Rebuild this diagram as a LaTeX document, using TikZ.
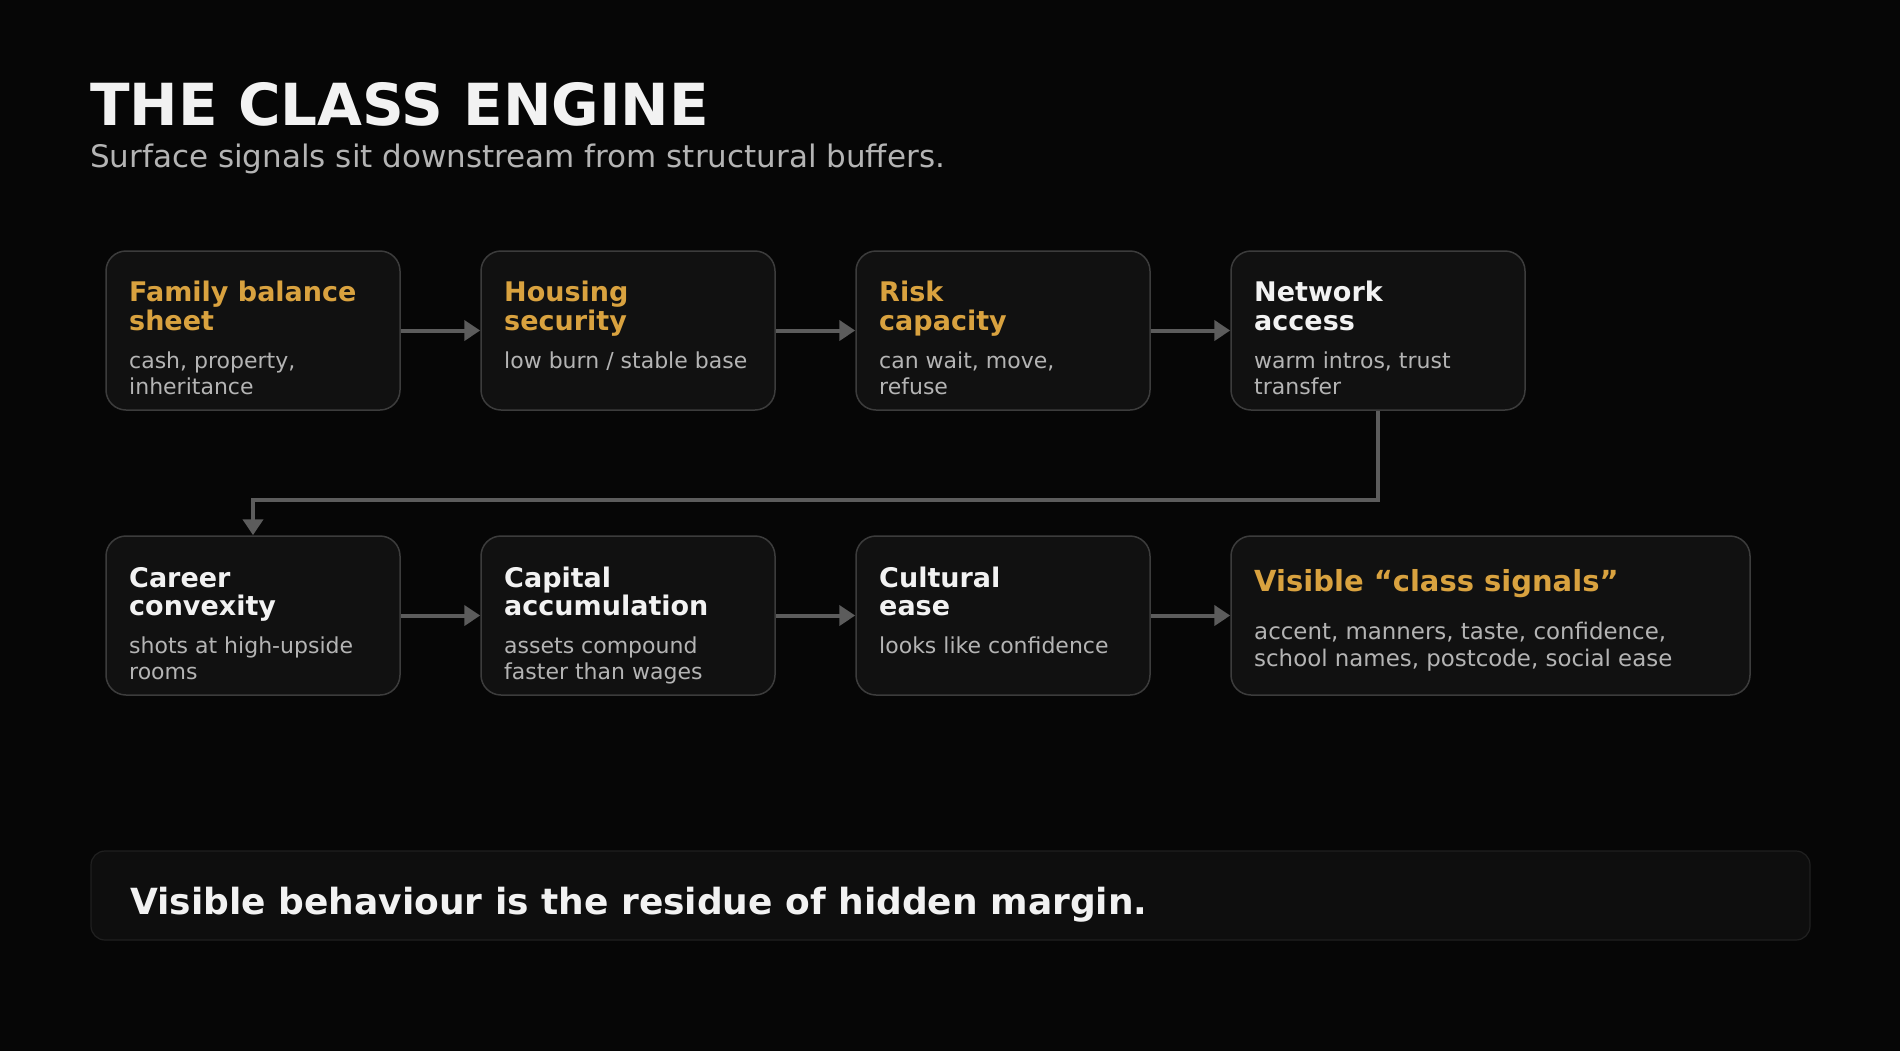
\documentclass[tikz,border=0pt]{standalone}
\usepackage{fontspec}
\setmainfont{DejaVu Sans}
\usetikzlibrary{arrows.meta}
\definecolor{bg}{HTML}{060606}
\definecolor{cardfill}{HTML}{111111}
\definecolor{cardline}{HTML}{3C3C3C}
\definecolor{bannerfill}{HTML}{0E0E0E}
\definecolor{bannerline}{HTML}{202020}
\definecolor{arrowc}{HTML}{5C5C5C}
\definecolor{orangec}{HTML}{D9A23F}
\definecolor{whitec}{HTML}{F2F2F2}
\definecolor{subc}{HTML}{B4B4B4}
\begin{document}
\begin{tikzpicture}[x=1pt,y=-1pt,
  card/.style={draw=cardline, fill=cardfill, rounded corners=20pt, line width=1.5pt,
    minimum width=294pt, minimum height=159pt, inner sep=0pt},
  ttl/.style={anchor=base west, inner sep=0pt, font=\fontsize{27}{29}\selectfont\bfseries},
  subtxt/.style={anchor=base west, inner sep=0pt, text=subc, font=\fontsize{22}{26}\selectfont},
  conn/.style={draw=arrowc, line width=4pt, -{Triangle[length=16pt,width=20pt]}}]
\useasboundingbox (0,0) rectangle (1900,1050);
\path[fill=bg] (-5,-5) rectangle (1905,1055);

% heading
\node[anchor=base west, inner sep=0pt, text=whitec, font=\fontsize{58}{60}\selectfont\bfseries] (title) at (90,125.5) {THE CLASS ENGINE};
\node[anchor=base west, inner sep=0pt, text=subc, font=\fontsize{31}{34}\selectfont] (subtitle) at (90,167.5) {Surface signals sit downstream from structural buffers.};

% row 1
\node[card] (b1) at (253,330.5) {};
\node[card] (b2) at (628,330.5) {};
\node[card] (b3) at (1003,330.5) {};
\node[card] (b4) at (1378,330.5) {};

\node[ttl, text=orangec] (b1t1) at (129,301.5) {Family balance};
\node[ttl, text=orangec] (b1t2) at (129,330.5) {sheet};
\node[subtxt] (b1s1) at (129,368.5) {cash, property,};
\node[subtxt] (b1s2) at (129,394.5) {inheritance};

\node[ttl, text=orangec] (b2t1) at (504,301.5) {Housing};
\node[ttl, text=orangec] (b2t2) at (504,330.5) {security};
\node[subtxt] (b2s1) at (504,368.5) {low burn / stable base};

\node[ttl, text=orangec] (b3t1) at (879,301.5) {Risk};
\node[ttl, text=orangec] (b3t2) at (879,330.5) {capacity};
\node[subtxt] (b3s1) at (879,368.5) {can wait, move,};
\node[subtxt] (b3s2) at (879,394.5) {refuse};

\node[ttl, text=whitec] (b4t1) at (1254,301.5) {Network};
\node[ttl, text=whitec] (b4t2) at (1254,330.5) {access};
\node[subtxt] (b4s1) at (1254,368.5) {warm intros, trust};
\node[subtxt] (b4s2) at (1254,394.5) {transfer};

% row 2
\node[card] (b5) at (253,615.5) {};
\node[card] (b6) at (628,615.5) {};
\node[card] (b7) at (1003,615.5) {};
\node[card, minimum width=519pt] (b8) at (1490.5,615.5) {};

\node[ttl, text=whitec] (b5t1) at (129,587) {Career};
\node[ttl, text=whitec] (b5t2) at (129,615.5) {convexity};
\node[subtxt] (b5s1) at (129,653.5) {shots at high-upside};
\node[subtxt] (b5s2) at (129,679.5) {rooms};

\node[ttl, text=whitec] (b6t1) at (504,587) {Capital};
\node[ttl, text=whitec] (b6t2) at (504,615.5) {accumulation};
\node[subtxt] (b6s1) at (504,653.5) {assets compound};
\node[subtxt] (b6s2) at (504,679.5) {faster than wages};

\node[ttl, text=whitec] (b7t1) at (879,587) {Cultural};
\node[ttl, text=whitec] (b7t2) at (879,615.5) {ease};
\node[subtxt] (b7s1) at (879,653.5) {looks like confidence};

\node[ttl, text=orangec, font=\fontsize{29}{31}\selectfont\bfseries] (b8t1) at (1254,591.5) {Visible “class signals”};
\node[subtxt, font=\fontsize{22.9}{27}\selectfont] (b8s1) at (1254,639.5) {accent, manners, taste, confidence,};
\node[subtxt, font=\fontsize{22.9}{27}\selectfont] (b8s2) at (1254,666.5) {school names, postcode, social ease};

% connectors
\draw[conn] (b1.east) -- (b2.west);
\draw[conn] (b2.east) -- (b3.west);
\draw[conn] (b3.east) -- (b4.west);
\coordinate (turn) at (0,500);
\draw[conn] (b4.south) |- (b5.north |- turn) -- (b5.north);
\draw[conn] (b5.east) -- (b6.west);
\draw[conn] (b6.east) -- (b7.west);
\draw[conn] (b7.east) -- (b8.west);

% banner
\node[draw=bannerline, fill=bannerfill, rounded corners=14pt, line width=1.2pt,
  minimum width=1719pt, minimum height=89pt, inner sep=0pt] (banner) at (950.5,895.5) {};
\node[anchor=base west, inner sep=0pt, text=whitec, font=\fontsize{36}{40}\selectfont\bfseries] (bannertext) at (130,914) {Visible behaviour is the residue of hidden margin.};
\end{tikzpicture}
\end{document}
